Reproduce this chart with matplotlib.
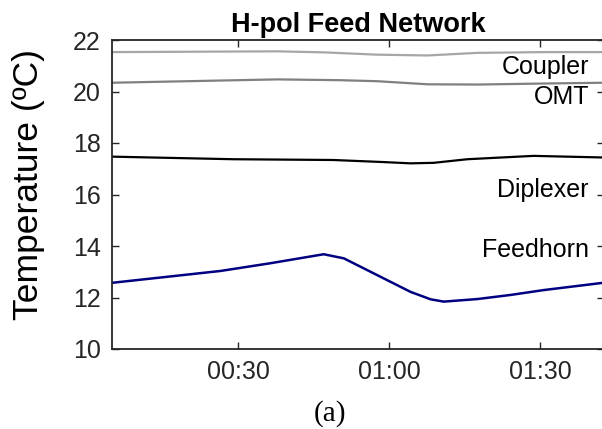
import matplotlib
matplotlib.use('Agg')
import matplotlib.pyplot as plt
from matplotlib.ticker import FuncFormatter

# sensor readings, time in minutes since start, temperature in degC
coupler_t = [5, 26.5, 37.8, 47.0, 57.6, 67.6, 77.5, 90.6, 102.4]
coupler_T = [21.53, 21.55, 21.56, 21.52, 21.43, 21.40, 21.50, 21.53, 21.53]

omt_t = [5, 20.0, 37.8, 50.0, 57.6, 67.6, 77.5, 90.6, 102.4]
omt_T = [20.34, 20.40, 20.47, 20.44, 20.40, 20.28, 20.27, 20.31, 20.34]

diplexer_t = [5, 29.0, 48.9, 58.8, 64.2, 68.8, 75.5, 88.6, 101.9, 102.4]
diplexer_T = [17.47, 17.37, 17.34, 17.26, 17.21, 17.23, 17.37, 17.50, 17.44, 17.44]

feedhorn_t = [5, 26.5, 36.4, 47.0, 51.0, 57.6, 64.2, 68.2, 70.8, 77.5, 84.1, 90.7, 102.4]
feedhorn_T = [12.57, 13.03, 13.33, 13.68, 13.52, 12.87, 12.22, 11.93, 11.84, 11.94, 12.10, 12.29, 12.57]

label_names = ['Coupler', 'OMT', 'Diplexer', 'Feedhorn']
label_T = [20.95, 19.8, 16.17, 13.84]
label_t = 99.6

plt.rcParams['font.family'] = ['Liberation Sans', 'DejaVu Sans']

fig = plt.figure(figsize=(6.02, 4.29), dpi=100)
ax = fig.add_axes([112 / 602, 1 - 349 / 429, 492 / 602, 309 / 429])

ax.plot(coupler_t, coupler_T, color='#a6a6a6', lw=1.6)
ax.plot(omt_t, omt_T, color='#808080', lw=1.6)
ax.plot(diplexer_t, diplexer_T, color='black', lw=1.6)
ax.plot(feedhorn_t, feedhorn_T, color='#000080', lw=1.8)

for name, T in zip(label_names, label_T):
    ax.text(label_t, T, name, ha='right', va='center', fontsize=18, color='black')

ax.set_xlim(5, 102.6)
ax.set_ylim(10, 22)
ax.set_xticks([30, 60, 90])
ax.set_yticks([10, 12, 14, 16, 18, 20, 22])
ax.xaxis.set_major_formatter(FuncFormatter(lambda m, p: '%02d:%02d' % (m // 60, m % 60)))

for s in ax.spines.values():
    s.set_color('#262626')
    s.set_linewidth(1.3)
ax.tick_params(direction='in', length=5, width=1, colors='#262626',
               top=True, right=True, labelsize=18, pad=8)

ax.set_title('H-pol Feed Network', fontsize=19.5, fontweight='bold', pad=6)
ax.set_ylabel('Temperature (ºC)', fontsize=25.5, color='black')
ax.yaxis.set_label_coords(-0.137, 0.532)

fig.text(330 / 602, 1 - 414 / 429, '(a)', ha='center', va='center',
         fontsize=21, family='Liberation Serif')

plt.savefig('out.png', dpi=100)
